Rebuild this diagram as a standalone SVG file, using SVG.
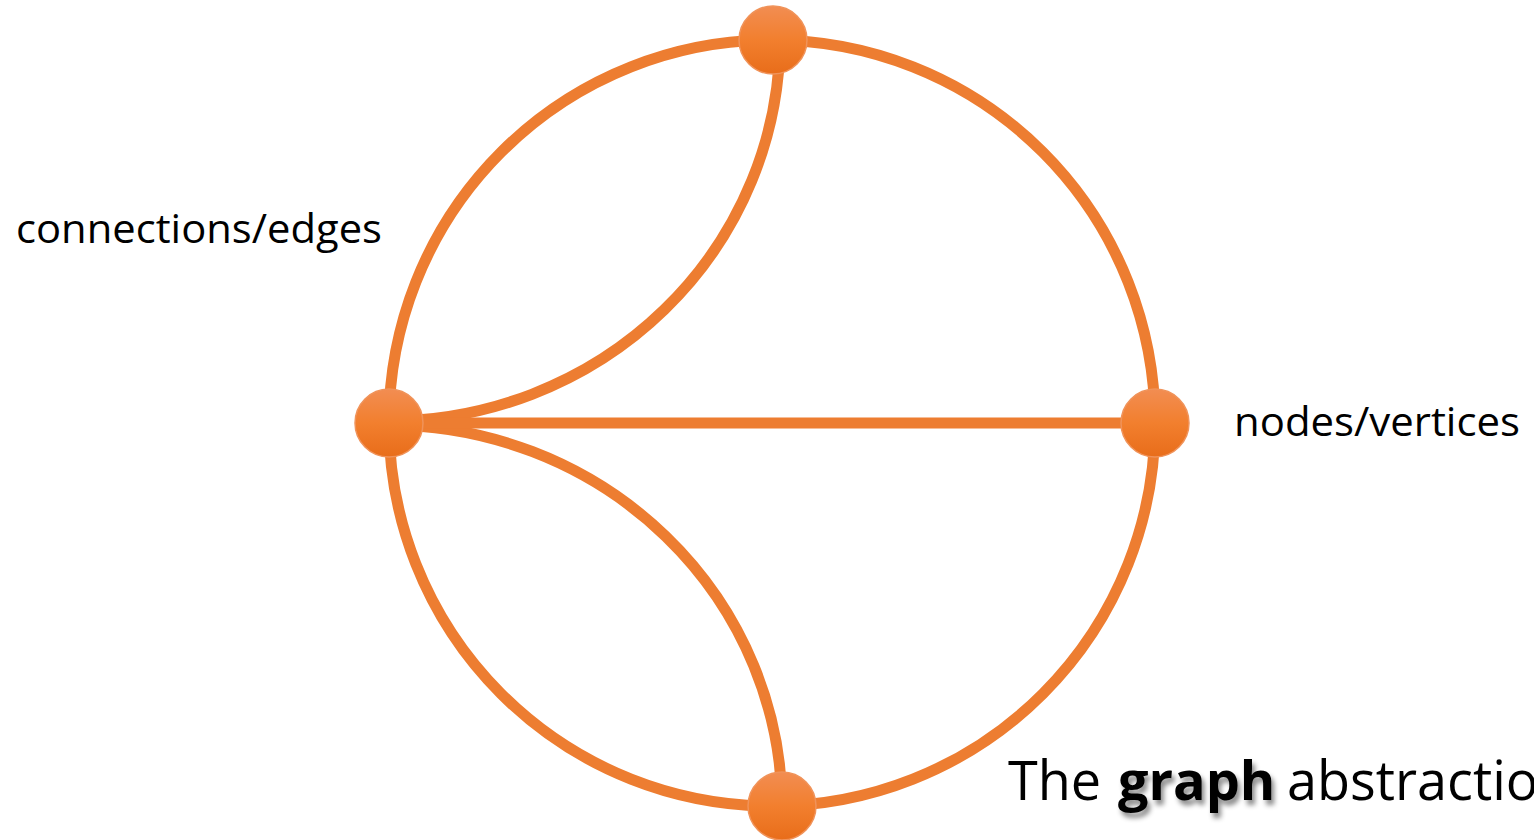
<svg xmlns="http://www.w3.org/2000/svg" width="1534" height="840" viewBox="0 0 1534 840">
  <defs>
    <linearGradient id="nodeGrad" x1="0" y1="0" x2="0" y2="1">
      <stop offset="0" stop-color="#F28D52"/>
      <stop offset="0.5" stop-color="#F27F2E"/>
      <stop offset="1" stop-color="#E86D1A"/>
    </linearGradient>
    <filter id="shadow" x="-20%" y="-20%" width="150%" height="160%">
      <feGaussianBlur in="SourceAlpha" stdDeviation="2.5"/>
      <feOffset dx="3" dy="5" result="b"/>
      <feFlood flood-color="#000" flood-opacity="0.45"/>
      <feComposite in2="b" operator="in" result="s"/>
      <feMerge><feMergeNode in="s"/><feMergeNode in="SourceGraphic"/></feMerge>
    </filter>
  </defs>
  <style>
    .edge { fill: none; stroke: #ED7D31; stroke-width: 11; }
    .node { fill: url(#nodeGrad); stroke: #F0935A; stroke-width: 1.5; }
    .label { font-family: "Open Sans", "Noto Sans", "Liberation Sans", sans-serif; fill: #000; }
  </style>
  <rect width="1534" height="840" fill="#fff"/>
  <g id="connectors">
    <circle class="edge" cx="772" cy="423" r="383"/>
    <path class="edge" d="M 388 421 A 392 383 0 0 0 780 40"/>
    <path class="edge" d="M 388 425 A 394 383 0 0 1 782 806"/>
    <line class="edge" x1="388" y1="423" x2="1155" y2="423"/>
  </g>
  <g id="node-top"><circle class="node" cx="773" cy="40" r="34"/></g>
  <g id="node-left"><circle class="node" cx="389" cy="423" r="34"/></g>
  <g id="node-right"><circle class="node" cx="1155" cy="423" r="34"/></g>
  <g id="node-bottom"><circle class="node" cx="782" cy="806" r="34"/></g>
  <g id="labels">
    <text class="label" x="16" y="243" font-size="41" textLength="366" lengthAdjust="spacingAndGlyphs">connections/edges</text>
    <text class="label" x="1234" y="436" font-size="41" textLength="286" lengthAdjust="spacingAndGlyphs">nodes/vertices</text>
    <text class="label" y="800" font-size="54"><tspan x="1008">The</tspan><tspan x="1118" font-weight="bold" filter="url(#shadow)">graph</tspan><tspan x="1287">abstraction</tspan></text>
  </g>
</svg>
